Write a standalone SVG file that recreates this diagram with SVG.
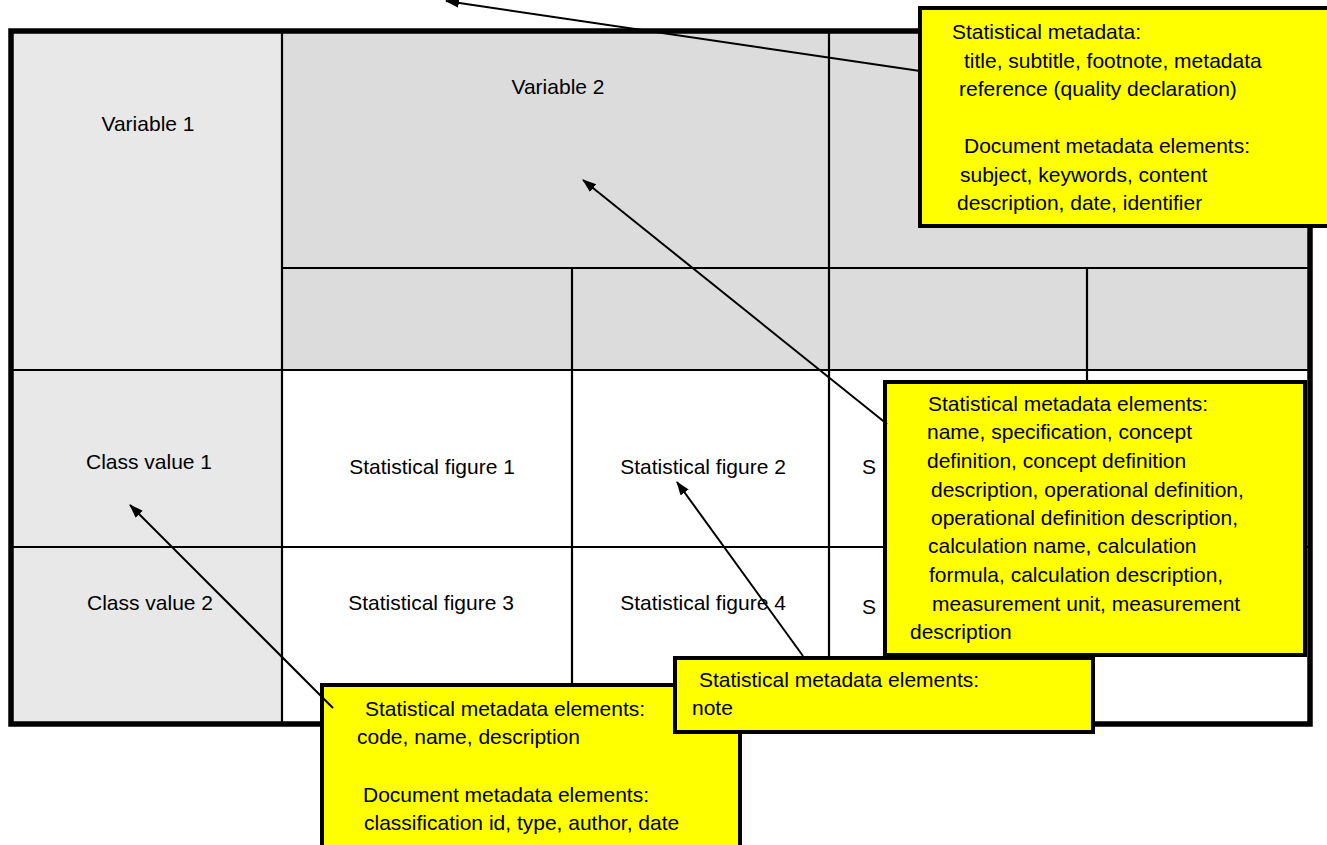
<svg xmlns="http://www.w3.org/2000/svg" width="1327" height="845" viewBox="0 0 1327 845">
<style>
text{font-family:"Liberation Sans",Arial,sans-serif;font-size:21px;fill:#000}
.c{text-anchor:middle}
.grid{stroke:#000;stroke-width:2.2;fill:none}
.note{fill:#ffff00;stroke:#000;stroke-width:4}
.conn{stroke:#000;stroke-width:2;fill:none;marker-end:url(#ah)}
</style>
<defs>
<marker id="ah" markerUnits="userSpaceOnUse" markerWidth="14" markerHeight="11" refX="13" refY="5" orient="auto">
<path d="M0,0 L14,5 L0,10 z" fill="#000"/>
</marker>
</defs>
<rect width="1327" height="845" fill="#fff"/>
<g id="table">
<rect x="11" y="31" width="1299" height="693" fill="#fff"/>
<rect x="11" y="31" width="271" height="693" fill="#e8e8e8"/>
<rect x="282" y="31" width="1028" height="339" fill="#dcdcdc"/>
<line class="grid" x1="282" y1="31" x2="282" y2="724"/>
<line class="grid" x1="829" y1="31" x2="829" y2="724"/>
<line class="grid" x1="572" y1="268" x2="572" y2="724"/>
<line class="grid" x1="1087" y1="268" x2="1087" y2="724"/>
<line class="grid" x1="282" y1="268" x2="1310" y2="268"/>
<line class="grid" x1="11" y1="370" x2="1310" y2="370"/>
<line class="grid" x1="11" y1="547" x2="1310" y2="547"/>
<rect x="11" y="31" width="1299" height="693" fill="none" stroke="#000" stroke-width="5.5"/>
<text class="c" x="148" y="131">Variable 1</text>
<text class="c" x="558" y="94">Variable 2</text>
<text class="c" x="149" y="469">Class value 1</text>
<text class="c" x="150" y="610">Class value 2</text>
<text class="c" x="432" y="474">Statistical figure 1</text>
<text class="c" x="703" y="474">Statistical figure 2</text>
<text class="c" x="431" y="610">Statistical figure 3</text>
<text class="c" x="703" y="610">Statistical figure 4</text>
<text x="862" y="474">S</text>
<text x="862" y="614">S</text>
</g>
<g id="box-table-metadata">
<rect class="note" x="920" y="8" width="420" height="218"/>
<text x="952" y="39">Statistical metadata:</text>
<text x="964" y="68">title, subtitle, footnote, metadata</text>
<text x="959" y="96">reference (quality declaration)</text>
<text x="964" y="153">Document metadata elements:</text>
<text x="960" y="182">subject, keywords, content</text>
<text x="957" y="210">description, date, identifier</text>
</g>
<g id="box-variable-metadata">
<rect class="note" x="885" y="382" width="420" height="273"/>
<text x="928" y="411">Statistical metadata elements:</text>
<text x="927" y="439">name, specification, concept</text>
<text x="927" y="468">definition, concept definition</text>
<text x="931" y="497">description, operational definition,</text>
<text x="931" y="525">operational definition description,</text>
<text x="928" y="553">calculation name, calculation</text>
<text x="929" y="582">formula, calculation description,</text>
<text x="932" y="611">measurement unit, measurement</text>
<text x="910" y="639">description</text>
</g>
<g id="box-class-metadata">
<rect class="note" x="322" y="685" width="418" height="170"/>
<text x="365" y="716">Statistical metadata elements:</text>
<text x="357" y="744">code, name, description</text>
<text x="363" y="802">Document metadata elements:</text>
<text x="364" y="830">classification id, type, author, date</text>
</g>
<g id="box-figure-metadata">
<rect class="note" x="675" y="658" width="418" height="74"/>
<text x="699" y="687">Statistical metadata elements:</text>
<text x="692" y="715">note</text>
</g>
<g id="connectors">
<line class="conn" x1="920" y1="71" x2="446" y2="1"/>
<line class="conn" x1="887" y1="424" x2="583" y2="180"/>
<line class="conn" x1="333" y1="708" x2="130" y2="505"/>
<line class="conn" x1="803" y1="656" x2="677" y2="482"/>
</g>
</svg>
